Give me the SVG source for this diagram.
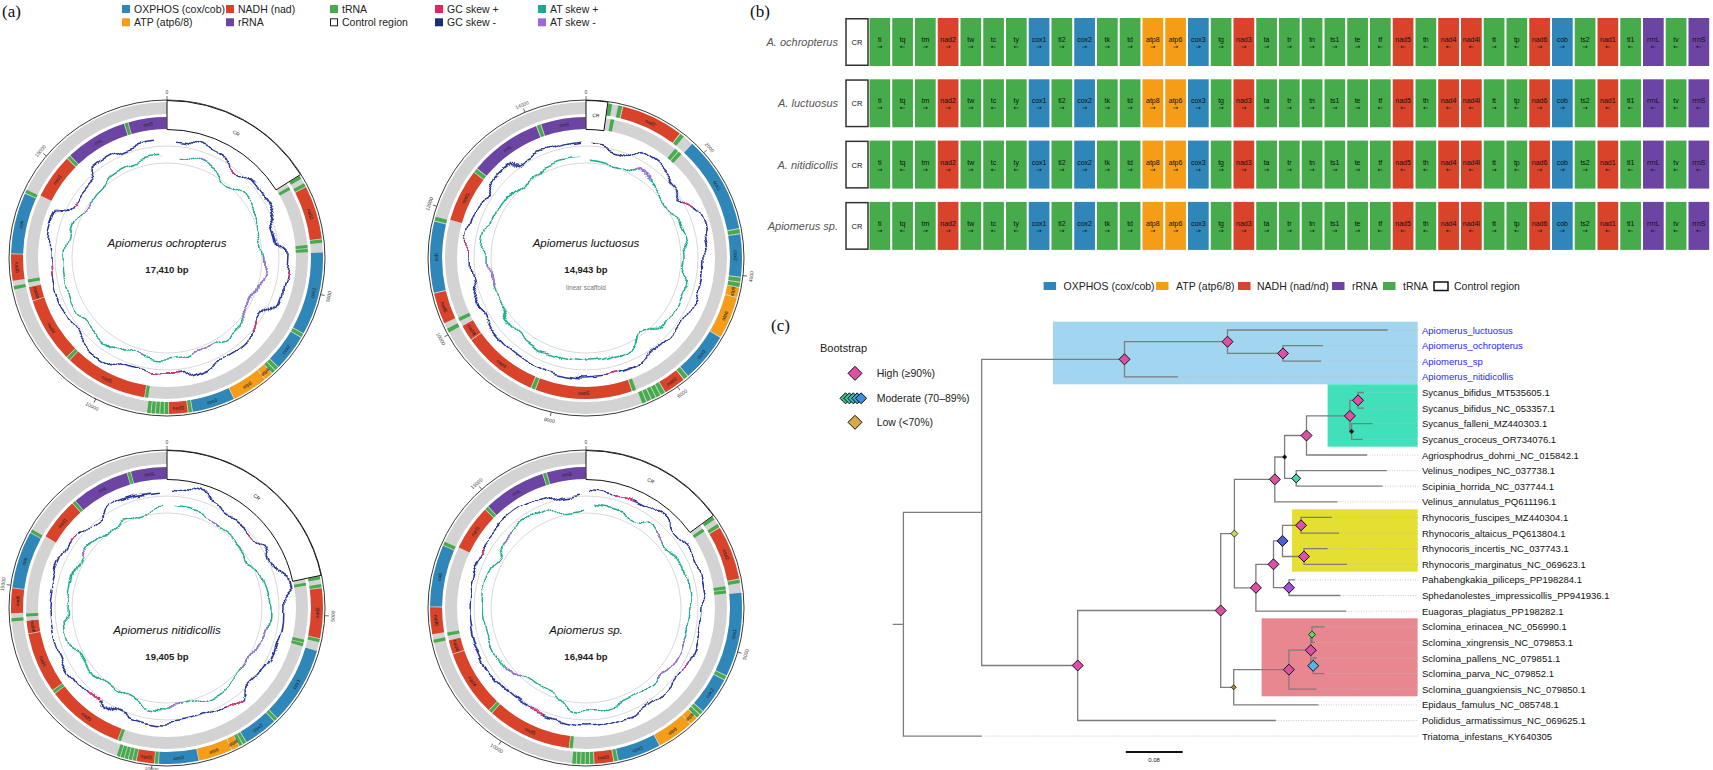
<svg xmlns="http://www.w3.org/2000/svg" xmlns:xlink="http://www.w3.org/1999/xlink" width="1713" height="770" viewBox="0 0 1713 770">
<style>
text{font-family:"Liberation Sans",Arial,sans-serif;fill:#111}
.pl{font-family:"Liberation Serif","Times New Roman",serif;font-size:17px}
.lg{font-size:10.5px;dominant-baseline:central;fill:#222}
.rl{font-size:11px;font-style:italic;fill:#555;text-anchor:end;dominant-baseline:central}
.gn text{font-size:7px;text-anchor:middle}
.ga{font-size:6.5px;text-anchor:middle;font-family:"DejaVu Sans",sans-serif}
.crt{font-size:7.5px;text-anchor:middle}
.cB{fill:#2e86b9}.cO{fill:#f59d16}.cR{fill:#d8432a}.cP{fill:#6c44a3}.cG{fill:#45ab4b}
.crb{fill:#fff;stroke:#333;stroke-width:1.5}
.band{fill:none;stroke:#d3d3d3;stroke-width:12}
.seg{fill:none;stroke-width:12}
.oG{stroke:#45ab4b;stroke-dasharray:0 8 64 96 64 1006 64 1711 64 696 64 16 64 1636 64 371 64 16 64 16 64 16 64 16 64 3496 64 1726 64 30000}
.oR{stroke:#d8432a;stroke-dasharray:0 248 974 4411 339 4056 484 30000}
.oB{stroke:#2e86b9;stroke-dasharray:0 1478 1519 96 664 1006 774 4991 1114 30000}
.oO{stroke:#f59d16;stroke-dasharray:0 3933 144 16 654 30000}
.iG{stroke:#45ab4b;stroke-dasharray:0 88 64 1166 64 16 64 4926 64 1716 64 1716 64 2651 64 1286 64 30000}
.iR{stroke:#d8432a;stroke-dasharray:0 6468 1684 96 1314 16 274 1886 909 30000}
.iP{stroke:#6c44a3;stroke-dasharray:0 12743 1254 96 774 30000}
.scl{fill:none;stroke:#222;stroke-width:0.9}
.crs{fill:#fff;stroke:#111;stroke-width:1}
.ref{fill:none;stroke:#cfcfcf;stroke-width:0.8}
.sk{fill:none;stroke-width:1.5}
.gcL{stroke:#26359b}.gcP{stroke:#e8336e}.atL{stroke:#1fae8e}.atP{stroke:#a56de0}
.ml{font-size:5px;text-anchor:middle;dominant-baseline:central;fill:#222}
.tk{stroke:#333;stroke-width:0.7;fill:none}
.tl{font-size:5px;text-anchor:middle;dominant-baseline:central;fill:#444}
.sp{font-size:11.5px;font-style:italic;text-anchor:middle;dominant-baseline:central}
.bp{font-size:9.5px;font-weight:bold;text-anchor:middle;dominant-baseline:central;fill:#222}
.br{fill:none;stroke:#7d7d7d;stroke-width:1.3}
.dt{fill:none;stroke:#bdbdbd;stroke-width:0.8;stroke-dasharray:1 1.5}
.tip{font-size:9.5px;dominant-baseline:central}
.tipb{font-size:9.5px;dominant-baseline:central;fill:#1f1fff}
.hi{fill:#df4fa6;stroke:#111;stroke-width:1}
.tl2{font-size:10.5px;dominant-baseline:central;fill:#222}
</style>
<defs>
<path id="dm" d="M0 -5.5L5.5 0 0 5.5 -5.5 0Z"/>
<path id="dmL" d="M0 -7L7 0 0 7 -7 0Z"/>
<filter id="wob1" filterUnits="userSpaceOnUse" x="-180" y="-180" width="360" height="360"><feTurbulence type="fractalNoise" baseFrequency="0.018" numOctaves="3" seed="2" result="n"/><feDisplacementMap in="SourceGraphic" in2="n" scale="32" xChannelSelector="R" yChannelSelector="G"/></filter>
<filter id="wob2" filterUnits="userSpaceOnUse" x="-180" y="-180" width="360" height="360"><feTurbulence type="fractalNoise" baseFrequency="0.018" numOctaves="3" seed="7" result="n"/><feDisplacementMap in="SourceGraphic" in2="n" scale="32" xChannelSelector="R" yChannelSelector="G"/></filter>
<filter id="wob3" filterUnits="userSpaceOnUse" x="-180" y="-180" width="360" height="360"><feTurbulence type="fractalNoise" baseFrequency="0.018" numOctaves="3" seed="11" result="n"/><feDisplacementMap in="SourceGraphic" in2="n" scale="32" xChannelSelector="R" yChannelSelector="G"/></filter>
<filter id="wob4" filterUnits="userSpaceOnUse" x="-180" y="-180" width="360" height="360"><feTurbulence type="fractalNoise" baseFrequency="0.018" numOctaves="3" seed="19" result="n"/><feDisplacementMap in="SourceGraphic" in2="n" scale="32" xChannelSelector="R" yChannelSelector="G"/></filter>
<g id="bar">
<rect class="crb" x="846" y="0.75" width="22" height="46.5"/>
<rect class="cG" x="869.5" width="20.7" height="48"/><rect class="cG" x="892.25" width="20.7" height="48"/><rect class="cG" x="915" width="20.7" height="48"/><rect class="cR" x="937.75" width="20.7" height="48"/><rect class="cG" x="960.5" width="20.7" height="48"/><rect class="cG" x="983.25" width="20.7" height="48"/><rect class="cG" x="1006" width="20.7" height="48"/><rect class="cB" x="1028.75" width="20.7" height="48"/><rect class="cG" x="1051.5" width="20.7" height="48"/><rect class="cB" x="1074.25" width="20.7" height="48"/><rect class="cG" x="1097" width="20.7" height="48"/><rect class="cG" x="1119.75" width="20.7" height="48"/><rect class="cO" x="1142.5" width="20.7" height="48"/><rect class="cO" x="1165.25" width="20.7" height="48"/><rect class="cB" x="1188" width="20.7" height="48"/><rect class="cG" x="1210.75" width="20.7" height="48"/><rect class="cR" x="1233.5" width="20.7" height="48"/><rect class="cG" x="1256.25" width="20.7" height="48"/><rect class="cG" x="1279" width="20.7" height="48"/><rect class="cG" x="1301.75" width="20.7" height="48"/><rect class="cG" x="1324.5" width="20.7" height="48"/><rect class="cG" x="1347.25" width="20.7" height="48"/><rect class="cG" x="1370" width="20.7" height="48"/><rect class="cR" x="1392.75" width="20.7" height="48"/><rect class="cG" x="1415.5" width="20.7" height="48"/><rect class="cR" x="1438.25" width="20.7" height="48"/><rect class="cR" x="1461" width="20.7" height="48"/><rect class="cG" x="1483.75" width="20.7" height="48"/><rect class="cG" x="1506.5" width="20.7" height="48"/><rect class="cR" x="1529.25" width="20.7" height="48"/><rect class="cB" x="1552" width="20.7" height="48"/><rect class="cG" x="1574.75" width="20.7" height="48"/><rect class="cR" x="1597.5" width="20.7" height="48"/><rect class="cG" x="1620.25" width="20.7" height="48"/><rect class="cP" x="1643" width="20.7" height="48"/><rect class="cG" x="1665.75" width="20.7" height="48"/><rect class="cP" x="1688.5" width="20.7" height="48"/>
</g>
</defs>
<rect width="1713" height="770" fill="#fff"/>

<!-- Panel (a) legend -->
<g id="legend-a">
<text class="pl" x="2" y="17">(a)</text>
<rect x="122" y="5" width="8" height="8" class="cB"/><text class="lg" x="134" y="9">OXPHOS (cox/cob)</text>
<rect x="226" y="5" width="8" height="8" class="cR"/><text class="lg" x="238" y="9">NADH (nad)</text>
<rect x="330" y="5" width="8" height="8" class="cG"/><text class="lg" x="342" y="9">tRNA</text>
<rect x="435" y="5" width="8" height="8" fill="#e3245f"/><text class="lg" x="447" y="9">GC skew +</text>
<rect x="538" y="5" width="8" height="8" fill="#20a88c"/><text class="lg" x="550" y="9">AT skew +</text>
<rect x="122" y="18.3" width="8" height="8" class="cO"/><text class="lg" x="134" y="22.3">ATP (atp6/8)</text>
<rect x="226" y="18.3" width="8" height="8" class="cP"/><text class="lg" x="238" y="22.3">rRNA</text>
<rect x="330.5" y="18.8" width="7" height="7" fill="#fff" stroke="#222" stroke-width="1"/><text class="lg" x="342" y="22.3">Control region</text>
<rect x="435" y="18.3" width="8" height="8" fill="#1c2c7c"/><text class="lg" x="447" y="22.3">GC skew -</text>
<rect x="538" y="18.3" width="8" height="8" fill="#9b6ad8"/><text class="lg" x="550" y="22.3">AT skew -</text>
</g>

<!-- Map 1 -->
<g id="map-ochropterus" transform="translate(167,258)">
<circle r="158" class="scl"/>
<g transform="rotate(-90)">
<circle r="150" class="band"/><circle r="135" class="band"/>
<g transform="rotate(58)">
<circle r="150" pathLength="17732" class="seg oG"/><circle r="150" pathLength="17732" class="seg oR"/><circle r="150" pathLength="17732" class="seg oB"/><circle r="150" pathLength="17732" class="seg oO"/>
<circle r="135" pathLength="17732" class="seg iG"/><circle r="135" pathLength="17732" class="seg iR"/><circle r="135" pathLength="17732" class="seg iP"/>
</g>
<circle r="112" class="ref"/><circle r="95" class="ref"/>
<g filter="url(#wob1)">
<circle r="117" pathLength="360" class="sk gcL" stroke-dasharray="0 4 352 4"/>
<circle r="117" pathLength="360" class="sk gcP" stroke-dasharray="0 37 3 60 3 25 5 42 15 72 6 32 3 57"/>
<circle r="100" pathLength="360" class="sk atL" stroke-dasharray="0 4 352 4"/>
<circle r="100" pathLength="360" class="sk atP" stroke-dasharray="0 20 5 60 45 20 10 35 5 100 5 55"/>
</g>
</g>
<path class="crs" d="M0,-157.5A157.5,157.5 0 0 1 133.6,-83.5L109,-68.1A128.5,128.5 0 0 0 0,-128.5Z"/>
<g class="ml">
<text class="ml" transform="rotate(29) translate(0,-143)">CR</text>
<text class="ml" transform="rotate(72.9) translate(0,-150)">nad2</text>
<text class="ml" transform="rotate(-76.6) translate(0,150)">cox1</text>
<text class="ml" transform="rotate(-52.5) translate(0,150)">cox2</text>
<text class="ml" transform="rotate(-40.7) translate(0,150)">atp8</text>
<text class="ml" transform="rotate(-32.3) translate(0,150)">atp6</text>
<text class="ml" transform="rotate(-17.4) translate(0,150)">cox3</text>
<text class="ml" transform="rotate(-4.2) translate(0,150)">nad3</text>
<text class="ml" transform="rotate(26.4) translate(0,135)">nad5</text>
<text class="ml" transform="rotate(58.8) translate(0,135)">nad4</text>
<text class="ml" transform="rotate(75.2) translate(0,135)">nad4l</text>
<text class="ml" transform="rotate(86.5) translate(0,150)">nad6</text>
<text class="ml" transform="rotate(283) translate(0,-150)">cob</text>
<text class="ml" transform="rotate(305.5) translate(0,-135)">nad1</text>
<text class="ml" transform="rotate(329.4) translate(0,-135)">rrnL</text>
<text class="ml" transform="rotate(352) translate(0,-135)">rrnS</text>
</g>
<path class="tk" d="M0-158V-162"/><path class="tk" transform="rotate(103.4)" d="M0-158V-162"/><path class="tk" transform="rotate(206.8)" d="M0-158V-162"/><path class="tk" transform="rotate(310.2)" d="M0-158V-162"/>
<text class="tl" transform="translate(0,-166)">0</text>
<text class="tl" transform="rotate(-76.6) translate(0,166)">5000</text>
<text class="tl" transform="rotate(26.8) translate(0,166)">10000</text>
<text class="tl" transform="rotate(310.2) translate(0,-166)">15000</text>
<text class="sp" y="-15">Apiomerus ochropterus</text>
<text class="bp" y="11">17,410 bp</text>
</g>

<!-- Map 2 -->
<g id="map-luctuosus" transform="translate(586,258)">
<circle r="158" class="scl"/>
<g transform="rotate(-90)">
<circle r="150" class="band"/><circle r="135" class="band"/>
<g transform="rotate(8)">
<circle r="150" pathLength="15213" class="seg oG"/><circle r="150" pathLength="15213" class="seg oR"/><circle r="150" pathLength="15213" class="seg oB"/><circle r="150" pathLength="15213" class="seg oO"/>
<circle r="135" pathLength="15213" class="seg iG"/><circle r="135" pathLength="15213" class="seg iR"/><circle r="135" pathLength="15213" class="seg iP"/>
</g>
<circle r="112" class="ref"/><circle r="95" class="ref"/>
<g filter="url(#wob2)">
<circle r="117" pathLength="360" class="sk gcL" stroke-dasharray="0 4 352 4"/>
<circle r="117" pathLength="360" class="sk gcP" stroke-dasharray="0 60 4 100 6 100 8 82"/>
<circle r="100" pathLength="360" class="sk atL" stroke-dasharray="0 4 352 4"/>
<circle r="100" pathLength="360" class="sk atP" stroke-dasharray="0 30 6 220 12 92"/>
</g>
</g>
<path class="crs" d="M0,-157.5A157.5,157.5 0 0 1 21.9,-156L17.9,-127.3A128.5,128.5 0 0 0 0,-128.5Z"/>
<g class="ml">
<text class="ml" transform="rotate(4) translate(0,-143)">CR</text>
<text class="ml" transform="rotate(25.4) translate(0,-150)">nad2</text>
<text class="ml" transform="rotate(61) translate(0,-150)">cox1</text>
<text class="ml" transform="rotate(89) translate(0,-150)">cox2</text>
<text class="ml" transform="rotate(-77.2) translate(0,150)">atp8</text>
<text class="ml" transform="rotate(-67.4) translate(0,150)">atp6</text>
<text class="ml" transform="rotate(-50.1) translate(0,150)">cox3</text>
<text class="ml" transform="rotate(-34.7) translate(0,150)">nad3</text>
<text class="ml" transform="rotate(1) translate(0,135)">nad5</text>
<text class="ml" transform="rotate(38.7) translate(0,135)">nad4</text>
<text class="ml" transform="rotate(57.9) translate(0,135)">nad4l</text>
<text class="ml" transform="rotate(71) translate(0,150)">nad6</text>
<text class="ml" transform="rotate(270.3) translate(0,-150)">cob</text>
<text class="ml" transform="rotate(296.5) translate(0,-135)">nad1</text>
<text class="ml" transform="rotate(324.4) translate(0,-135)">rrnL</text>
<text class="ml" transform="rotate(350.7) translate(0,-135)">rrnS</text>
</g>
<path class="tk" d="M0-158V-162"/><path class="tk" transform="rotate(48.2)" d="M0-158V-162"/><path class="tk" transform="rotate(96.4)" d="M0-158V-162"/><path class="tk" transform="rotate(144.6)" d="M0-158V-162"/><path class="tk" transform="rotate(192.7)" d="M0-158V-162"/><path class="tk" transform="rotate(240.9)" d="M0-158V-162"/><path class="tk" transform="rotate(289.1)" d="M0-158V-162"/><path class="tk" transform="rotate(337.3)" d="M0-158V-162"/>
<text class="tl" transform="translate(0,-166)">0</text>
<text class="tl" transform="rotate(48.2) translate(0,-166)">2000</text>
<text class="tl" transform="rotate(-83.6) translate(0,166)">4000</text>
<text class="tl" transform="rotate(-35.4) translate(0,166)">6000</text>
<text class="tl" transform="rotate(12.7) translate(0,166)">8000</text>
<text class="tl" transform="rotate(60.9) translate(0,166)">10000</text>
<text class="tl" transform="rotate(289.1) translate(0,-166)">12000</text>
<text class="tl" transform="rotate(337.3) translate(0,-166)">14000</text>
<text class="sp" y="-15">Apiomerus luctuosus</text>
<text class="bp" y="11">14,943 bp</text>
<text x="0" y="32" style="font-size:6.5px;text-anchor:middle;fill:#777">linear scaffold</text>
</g>

<!-- Map 3 -->
<g id="map-nitidicollis" transform="translate(167,608)">
<circle r="158" class="scl"/>
<g transform="rotate(-90)">
<circle r="150" class="band"/><circle r="135" class="band"/>
<g transform="rotate(78)">
<circle r="150" pathLength="18989" class="seg oG"/><circle r="150" pathLength="18989" class="seg oR"/><circle r="150" pathLength="18989" class="seg oB"/><circle r="150" pathLength="18989" class="seg oO"/>
<circle r="135" pathLength="18989" class="seg iG"/><circle r="135" pathLength="18989" class="seg iR"/><circle r="135" pathLength="18989" class="seg iP"/>
</g>
<circle r="112" class="ref"/><circle r="95" class="ref"/>
<g filter="url(#wob3)">
<circle r="117" pathLength="360" class="sk gcL" stroke-dasharray="0 4 352 4"/>
<circle r="117" pathLength="360" class="sk gcP" stroke-dasharray="0 45 5 90 8 70 6 80 4 52"/>
<circle r="100" pathLength="360" class="sk atL" stroke-dasharray="0 4 352 4"/>
<circle r="100" pathLength="360" class="sk atP" stroke-dasharray="0 25 6 70 30 40 8 120 6 55"/>
</g>
</g>
<path class="crs" d="M0,-157.5A157.5,157.5 0 0 1 154.1,-32.7L125.7,-26.7A128.5,128.5 0 0 0 0,-128.5Z"/>
<g class="ml">
<text class="ml" transform="rotate(39) translate(0,-143)">CR</text>
<text class="ml" transform="rotate(-88.1) translate(0,150)">nad2</text>
<text class="ml" transform="rotate(-59.6) translate(0,150)">cox1</text>
<text class="ml" transform="rotate(-37.1) translate(0,150)">cox2</text>
<text class="ml" transform="rotate(-26.1) translate(0,150)">atp8</text>
<text class="ml" transform="rotate(-18.2) translate(0,150)">atp6</text>
<text class="ml" transform="rotate(-4.4) translate(0,150)">cox3</text>
<text class="ml" transform="rotate(8) translate(0,150)">nad3</text>
<text class="ml" transform="rotate(36.6) translate(0,135)">nad5</text>
<text class="ml" transform="rotate(66.8) translate(0,135)">nad4</text>
<text class="ml" transform="rotate(82.2) translate(0,135)">nad4l</text>
<text class="ml" transform="rotate(272.7) translate(0,-150)">nad6</text>
<text class="ml" transform="rotate(288.1) translate(0,-150)">cob</text>
<text class="ml" transform="rotate(309.1) translate(0,-135)">nad1</text>
<text class="ml" transform="rotate(331.5) translate(0,-135)">rrnL</text>
<text class="ml" transform="rotate(352.5) translate(0,-135)">rrnS</text>
</g>
<path class="tk" d="M0-158V-162"/><path class="tk" transform="rotate(92.8)" d="M0-158V-162"/><path class="tk" transform="rotate(185.5)" d="M0-158V-162"/><path class="tk" transform="rotate(278.3)" d="M0-158V-162"/>
<text class="tl" transform="translate(0,-166)">0</text>
<text class="tl" transform="rotate(-87.2) translate(0,166)">5000</text>
<text class="tl" transform="rotate(5.5) translate(0,161.5)">10000</text>
<text class="tl" transform="rotate(278.3) translate(0,-166)">15000</text>
<text class="sp" y="22">Apiomerus nitidicollis</text>
<text class="bp" y="48">19,405 bp</text>
</g>

<!-- Map 4 -->
<g id="map-sp" transform="translate(586,608)">
<circle r="158" class="scl"/>
<g transform="rotate(-90)">
<circle r="150" class="band"/><circle r="135" class="band"/>
<g transform="rotate(54)">
<circle r="150" pathLength="17500" class="seg oG"/><circle r="150" pathLength="17500" class="seg oR"/><circle r="150" pathLength="17500" class="seg oB"/><circle r="150" pathLength="17500" class="seg oO"/>
<circle r="135" pathLength="17500" class="seg iG"/><circle r="135" pathLength="17500" class="seg iR"/><circle r="135" pathLength="17500" class="seg iP"/>
</g>
<circle r="112" class="ref"/><circle r="95" class="ref"/>
<g filter="url(#wob4)">
<circle r="117" pathLength="360" class="sk gcL" stroke-dasharray="0 4 352 4"/>
<circle r="117" pathLength="360" class="sk gcP" stroke-dasharray="0 15 8 95 5 80 6 90 4 57"/>
<circle r="100" pathLength="360" class="sk atL" stroke-dasharray="0 4 352 4"/>
<circle r="100" pathLength="360" class="sk atP" stroke-dasharray="0 40 8 60 25 90 10 80 6 41"/>
</g>
</g>
<path class="crs" d="M0,-157.5A157.5,157.5 0 0 1 127.4,-92.6L104,-75.5A128.5,128.5 0 0 0 0,-128.5Z"/>
<g class="ml">
<text class="ml" transform="rotate(27) translate(0,-143)">CR</text>
<text class="ml" transform="rotate(69.1) translate(0,-150)">nad2</text>
<text class="ml" transform="rotate(-80) translate(0,150)">cox1</text>
<text class="ml" transform="rotate(-55.5) translate(0,150)">cox2</text>
<text class="ml" transform="rotate(-43.6) translate(0,150)">atp8</text>
<text class="ml" transform="rotate(-35.1) translate(0,150)">atp6</text>
<text class="ml" transform="rotate(-20.1) translate(0,150)">cox3</text>
<text class="ml" transform="rotate(-6.6) translate(0,150)">nad3</text>
<text class="ml" transform="rotate(24.4) translate(0,135)">nad5</text>
<text class="ml" transform="rotate(57.2) translate(0,135)">nad4</text>
<text class="ml" transform="rotate(73.8) translate(0,135)">nad4l</text>
<text class="ml" transform="rotate(85.3) translate(0,150)">nad6</text>
<text class="ml" transform="rotate(282) translate(0,-150)">cob</text>
<text class="ml" transform="rotate(304.8) translate(0,-135)">nad1</text>
<text class="ml" transform="rotate(329) translate(0,-135)">rrnL</text>
<text class="ml" transform="rotate(351.9) translate(0,-135)">rrnS</text>
</g>
<path class="tk" d="M0-158V-162"/><path class="tk" transform="rotate(106.2)" d="M0-158V-162"/><path class="tk" transform="rotate(212.5)" d="M0-158V-162"/><path class="tk" transform="rotate(318.7)" d="M0-158V-162"/>
<text class="tl" transform="translate(0,-166)">0</text>
<text class="tl" transform="rotate(-73.8) translate(0,166)">5000</text>
<text class="tl" transform="rotate(32.5) translate(0,166)">10000</text>
<text class="tl" transform="rotate(318.7) translate(0,-166)">15000</text>
<text class="sp" y="22">Apiomerus sp.</text>
<text class="bp" y="48">16,944 bp</text>
</g>

<!-- Panel (b) -->
<text class="pl" x="750" y="17">(b)</text>
<g id="row-ochropterus" transform="translate(0,18)">
<use href="#bar"/>
<text class="rl" x="838" y="24">A. ochropterus</text>
<text class="crt" x="857" y="27">CR</text>
<g class="gn"><text x="879.85" y="24">ti</text><text x="902.6" y="24">tq</text><text x="925.35" y="24">tm</text><text x="948.1" y="24">nad2</text><text x="970.85" y="24">tw</text><text x="993.6" y="24">tc</text><text x="1016.35" y="24">ty</text><text x="1039.1" y="24">cox1</text><text x="1061.85" y="24">tl2</text><text x="1084.6" y="24">cox2</text><text x="1107.35" y="24">tk</text><text x="1130.1" y="24">td</text><text x="1152.85" y="24">atp8</text><text x="1175.6" y="24">atp6</text><text x="1198.35" y="24">cox3</text><text x="1221.1" y="24">tg</text><text x="1243.85" y="24">nad3</text><text x="1266.6" y="24">ta</text><text x="1289.35" y="24">tr</text><text x="1312.1" y="24">tn</text><text x="1334.85" y="24">ts1</text><text x="1357.6" y="24">te</text><text x="1380.35" y="24">tf</text><text x="1403.1" y="24">nad5</text><text x="1425.85" y="24">th</text><text x="1448.6" y="24">nad4</text><text x="1471.35" y="24">nad4l</text><text x="1494.1" y="24">tt</text><text x="1516.85" y="24">tp</text><text x="1539.6" y="24">nad6</text><text x="1562.35" y="24">cob</text><text x="1585.1" y="24">ts2</text><text x="1607.85" y="24">nad1</text><text x="1630.6" y="24">tl1</text><text x="1653.35" y="24">rrnL</text><text x="1676.1" y="24">tv</text><text x="1698.85" y="24">rrnS</text></g>
<text class="ga" y="31" x="879.85 902.6 925.35 948.1 970.85 993.6 1016.35 1039.1 1061.85 1084.6 1107.35 1130.1 1152.85 1175.6 1198.35 1221.1 1243.85 1266.6 1289.35 1312.1 1334.85 1357.6 1380.35 1403.1 1425.85 1448.6 1471.35 1494.1 1516.85 1539.6 1562.35 1585.1 1607.85 1630.6 1653.35 1676.1 1698.85">→←→→→←←→→→→→→→→→→→→→→→←←←←←→←→→→←←←←←</text>
</g>
<g id="row-luctuosus" transform="translate(0,79.3)">
<use href="#bar"/>
<text class="rl" x="838" y="24">A. luctuosus</text>
<text class="crt" x="857" y="27">CR</text>
<g class="gn"><text x="879.85" y="24">ti</text><text x="902.6" y="24">tq</text><text x="925.35" y="24">tm</text><text x="948.1" y="24">nad2</text><text x="970.85" y="24">tw</text><text x="993.6" y="24">tc</text><text x="1016.35" y="24">ty</text><text x="1039.1" y="24">cox1</text><text x="1061.85" y="24">tl2</text><text x="1084.6" y="24">cox2</text><text x="1107.35" y="24">tk</text><text x="1130.1" y="24">td</text><text x="1152.85" y="24">atp8</text><text x="1175.6" y="24">atp6</text><text x="1198.35" y="24">cox3</text><text x="1221.1" y="24">tg</text><text x="1243.85" y="24">nad3</text><text x="1266.6" y="24">ta</text><text x="1289.35" y="24">tr</text><text x="1312.1" y="24">tn</text><text x="1334.85" y="24">ts1</text><text x="1357.6" y="24">te</text><text x="1380.35" y="24">tf</text><text x="1403.1" y="24">nad5</text><text x="1425.85" y="24">th</text><text x="1448.6" y="24">nad4</text><text x="1471.35" y="24">nad4l</text><text x="1494.1" y="24">tt</text><text x="1516.85" y="24">tp</text><text x="1539.6" y="24">nad6</text><text x="1562.35" y="24">cob</text><text x="1585.1" y="24">ts2</text><text x="1607.85" y="24">nad1</text><text x="1630.6" y="24">tl1</text><text x="1653.35" y="24">rrnL</text><text x="1676.1" y="24">tv</text><text x="1698.85" y="24">rrnS</text></g>
<text class="ga" y="31" x="879.85 902.6 925.35 948.1 970.85 993.6 1016.35 1039.1 1061.85 1084.6 1107.35 1130.1 1152.85 1175.6 1198.35 1221.1 1243.85 1266.6 1289.35 1312.1 1334.85 1357.6 1380.35 1403.1 1425.85 1448.6 1471.35 1494.1 1516.85 1539.6 1562.35 1585.1 1607.85 1630.6 1653.35 1676.1 1698.85">→←→→→←←→→→→→→→→→→→→→→→←←←←←→←→→→←←←←←</text>
</g>
<g id="row-nitidicollis" transform="translate(0,140.6)">
<use href="#bar"/>
<text class="rl" x="838" y="24">A. nitidicollis</text>
<text class="crt" x="857" y="27">CR</text>
<g class="gn"><text x="879.85" y="24">ti</text><text x="902.6" y="24">tq</text><text x="925.35" y="24">tm</text><text x="948.1" y="24">nad2</text><text x="970.85" y="24">tw</text><text x="993.6" y="24">tc</text><text x="1016.35" y="24">ty</text><text x="1039.1" y="24">cox1</text><text x="1061.85" y="24">tl2</text><text x="1084.6" y="24">cox2</text><text x="1107.35" y="24">tk</text><text x="1130.1" y="24">td</text><text x="1152.85" y="24">atp8</text><text x="1175.6" y="24">atp6</text><text x="1198.35" y="24">cox3</text><text x="1221.1" y="24">tg</text><text x="1243.85" y="24">nad3</text><text x="1266.6" y="24">ta</text><text x="1289.35" y="24">tr</text><text x="1312.1" y="24">tn</text><text x="1334.85" y="24">ts1</text><text x="1357.6" y="24">te</text><text x="1380.35" y="24">tf</text><text x="1403.1" y="24">nad5</text><text x="1425.85" y="24">th</text><text x="1448.6" y="24">nad4</text><text x="1471.35" y="24">nad4l</text><text x="1494.1" y="24">tt</text><text x="1516.85" y="24">tp</text><text x="1539.6" y="24">nad6</text><text x="1562.35" y="24">cob</text><text x="1585.1" y="24">ts2</text><text x="1607.85" y="24">nad1</text><text x="1630.6" y="24">tl1</text><text x="1653.35" y="24">rrnL</text><text x="1676.1" y="24">tv</text><text x="1698.85" y="24">rrnS</text></g>
<text class="ga" y="31" x="879.85 902.6 925.35 948.1 970.85 993.6 1016.35 1039.1 1061.85 1084.6 1107.35 1130.1 1152.85 1175.6 1198.35 1221.1 1243.85 1266.6 1289.35 1312.1 1334.85 1357.6 1380.35 1403.1 1425.85 1448.6 1471.35 1494.1 1516.85 1539.6 1562.35 1585.1 1607.85 1630.6 1653.35 1676.1 1698.85">→←→→→←←→→→→→→→→→→→→→→→←←←←←→←→→→←←←←←</text>
</g>
<g id="row-sp" transform="translate(0,201.9)">
<use href="#bar"/>
<text class="rl" x="838" y="24">Apiomerus sp.</text>
<text class="crt" x="857" y="27">CR</text>
<g class="gn"><text x="879.85" y="24">ti</text><text x="902.6" y="24">tq</text><text x="925.35" y="24">tm</text><text x="948.1" y="24">nad2</text><text x="970.85" y="24">tw</text><text x="993.6" y="24">tc</text><text x="1016.35" y="24">ty</text><text x="1039.1" y="24">cox1</text><text x="1061.85" y="24">tl2</text><text x="1084.6" y="24">cox2</text><text x="1107.35" y="24">tk</text><text x="1130.1" y="24">td</text><text x="1152.85" y="24">atp8</text><text x="1175.6" y="24">atp6</text><text x="1198.35" y="24">cox3</text><text x="1221.1" y="24">tg</text><text x="1243.85" y="24">nad3</text><text x="1266.6" y="24">ta</text><text x="1289.35" y="24">tr</text><text x="1312.1" y="24">tn</text><text x="1334.85" y="24">ts1</text><text x="1357.6" y="24">te</text><text x="1380.35" y="24">tf</text><text x="1403.1" y="24">nad5</text><text x="1425.85" y="24">th</text><text x="1448.6" y="24">nad4</text><text x="1471.35" y="24">nad4l</text><text x="1494.1" y="24">tt</text><text x="1516.85" y="24">tp</text><text x="1539.6" y="24">nad6</text><text x="1562.35" y="24">cob</text><text x="1585.1" y="24">ts2</text><text x="1607.85" y="24">nad1</text><text x="1630.6" y="24">tl1</text><text x="1653.35" y="24">rrnL</text><text x="1676.1" y="24">tv</text><text x="1698.85" y="24">rrnS</text></g>
<text class="ga" y="31" x="879.85 902.6 925.35 948.1 970.85 993.6 1016.35 1039.1 1061.85 1084.6 1107.35 1130.1 1152.85 1175.6 1198.35 1221.1 1243.85 1266.6 1289.35 1312.1 1334.85 1357.6 1380.35 1403.1 1425.85 1448.6 1471.35 1494.1 1516.85 1539.6 1562.35 1585.1 1607.85 1630.6 1653.35 1676.1 1698.85">→←→→→←←→→→→→→→→→→→→→→→←←←←←→←→→→←←←←←</text>
</g>
<g id="legend-b">
<rect x="1043.6" y="282" width="12.5" height="8" class="cB"/><text class="lg" x="1063.6" y="286">OXPHOS (cox/cob)</text>
<rect x="1156" y="282" width="12.5" height="8" class="cO"/><text class="lg" x="1176" y="286">ATP (atp6/8)</text>
<rect x="1238" y="282" width="12.5" height="8" class="cR"/><text class="lg" x="1257" y="286">NADH (nad/nd)</text>
<rect x="1332" y="282" width="12.5" height="8" class="cP"/><text class="lg" x="1352" y="286">rRNA</text>
<rect x="1383" y="282" width="12.5" height="8" class="cG"/><text class="lg" x="1403" y="286">tRNA</text>
<rect x="1434" y="282" width="14" height="8.5" fill="#fff" stroke="#111" stroke-width="1.5"/><text class="lg" x="1454" y="286">Control region</text>
</g>

<!-- Panel (c) -->
<text class="pl" x="771" y="331">(c)</text>
<g id="clade-boxes">
<rect x="1052.9" y="321.7" width="364.8" height="62.6" fill="#a2d5ef"/>
<rect x="1327.6" y="384.3" width="90.1" height="62.4" fill="#40e0bb"/>
<rect x="1291.9" y="509.3" width="125.8" height="62.4" fill="#e4df30"/>
<rect x="1261.6" y="618.3" width="156" height="78" fill="#e8878f"/>
</g>
<g id="connectors">
<path class="dt" d="M1387.6 330H1418M1323 345.6H1418M1321 361.2H1418M1178 376.9H1418M1364 392.5H1418M1364 408.1H1418M1372.6 423.7H1418M1363 439.3H1418M1367 455H1418M1386.8 470.6H1418M1382.5 486.2H1418M1337.4 501.8H1418M1331.8 517.4H1418M1339 533.1H1418M1327.6 548.7H1418M1346.9 564.3H1418M1295 579.9H1418M1340.4 595.5H1418M1346 611.2H1418M1324.5 626.8H1418M1315 642.4H1418M1316.8 658H1418M1324.5 673.6H1418M1316.8 689.2H1418M1318.5 704.9H1418M1275.8 720.5H1418M981.7 736.1H1418"/>
<path class="br" d="M892.7 624.3H903.4M981.7 512.4H903.4V736.1H981.7M1124.5 359.3H981.7V665.5H1077.7M1227.5 341.7H1124.5V376.9H1178M1387.6 330H1227.5V353.4H1283M1323 345.6H1283V361.2H1321M1220.7 610.5H1077.7V720.5H1275.8M1234.4 533.6H1220.7V687.3H1233.7M1274.8 479.4H1234.4V587.8H1255.9M1284.6 457H1274.8V501.8H1337.4M1306.5 435.5H1284.6V478.4H1296.2M1349.9 415.9H1306.5V455H1367M1358 400.3H1349.9V431.5H1351.6M1364 392.5H1358V408.1H1364M1372.6 423.7H1351.6V439.3H1363M1386.8 470.6H1296.2V486.2H1382.5M1273.5 564.3H1255.9V611.2H1346M1282.5 540.9H1273.5V587.7H1289M1301 525.3H1282.5V556.5H1304M1331.8 517.4H1301V533.1H1339M1327.6 548.7H1304V564.3H1346.9M1295 579.9H1289V595.5H1340.4M1288.9 669.7H1233.7V704.9H1318.5M1310.8 650.2H1288.9V689.2H1316.8M1312 634.6H1310.8V665.8H1313.2M1324.5 626.8H1312V642.4H1315M1316.8 658H1313.2V673.6H1324.5"/>
</g>
<g id="bootstrap-markers">
<use href="#dm" x="1124.5" y="359.3" class="hi"/>
<use href="#dm" x="1227.5" y="341.7" class="hi"/>
<use href="#dm" x="1283" y="353.4" class="hi"/>
<use href="#dm" x="1358" y="400.3" class="hi"/>
<use href="#dm" x="1349.9" y="415.9" class="hi"/>
<path d="M1351.6 429L1354.1 431.5 1351.6 434 1349.1 431.5Z" fill="#111"/>
<use href="#dm" x="1306.5" y="435.5" class="hi"/>
<path d="M1284.6 454.5L1287.1 457 1284.6 459.5 1282.1 457Z" fill="#111"/>
<path d="M1296.2 473.9L1300.7 478.4 1296.2 482.9 1291.7 478.4Z" fill="#41d6b0" stroke="#111" stroke-width="1"/>
<use href="#dm" x="1274.8" y="479.4" class="hi"/>
<path d="M1234.4 530.1L1237.9 533.6 1234.4 537.1 1230.9 533.6Z" fill="#c5e048" stroke="#111" stroke-width="0.8"/>
<use href="#dm" x="1282.5" y="540.9" fill="#4b5fd6" stroke="#111" stroke-width="1"/>
<use href="#dm" x="1301" y="525.3" class="hi"/>
<use href="#dm" x="1304" y="556.5" class="hi"/>
<use href="#dm" x="1273.5" y="564.3" class="hi"/>
<use href="#dm" x="1289" y="587.7" fill="#a64fdc" stroke="#111" stroke-width="1"/>
<use href="#dm" x="1255.9" y="587.8" class="hi"/>
<use href="#dm" x="1220.7" y="610.5" class="hi"/>
<use href="#dm" x="1077.7" y="665.5" class="hi"/>
<path d="M1312 631.1L1315.5 634.6 1312 638.1 1308.5 634.6Z" fill="#53e05a" stroke="#111" stroke-width="0.8"/>
<use href="#dm" x="1310.8" y="650.2" class="hi"/>
<use href="#dm" x="1313.2" y="665.8" fill="#55b5ea" stroke="#111" stroke-width="1"/>
<use href="#dm" x="1288.9" y="669.7" class="hi"/>
<path d="M1233.7 684.8L1236.2 687.3 1233.7 689.8 1231.2 687.3Z" fill="#b08a1a" stroke="#111" stroke-width="0.8"/>
</g>
<g id="tip-labels">
<text class="tipb" x="1422" y="330">Apiomerus_luctuosus</text>
<text class="tipb" x="1422" y="345.6">Apiomerus_ochropterus</text>
<text class="tipb" x="1422" y="361.2">Apiomerus_sp</text>
<text class="tipb" x="1422" y="376.9">Apiomerus_nitidicollis</text>
<text class="tip" x="1422" y="392.5">Sycanus_bifidus_MT535605.1</text>
<text class="tip" x="1422" y="408.1">Sycanus_bifidus_NC_053357.1</text>
<text class="tip" x="1422" y="423.7">Sycanus_falleni_MZ440303.1</text>
<text class="tip" x="1422" y="439.3">Sycanus_croceus_OR734076.1</text>
<text class="tip" x="1422" y="455">Agriosphodrus_dohrni_NC_015842.1</text>
<text class="tip" x="1422" y="470.6">Velinus_nodipes_NC_037738.1</text>
<text class="tip" x="1422" y="486.2">Scipinia_horrida_NC_037744.1</text>
<text class="tip" x="1422" y="501.8">Velinus_annulatus_PQ611196.1</text>
<text class="tip" x="1422" y="517.4">Rhynocoris_fuscipes_MZ440304.1</text>
<text class="tip" x="1422" y="533.1">Rhynocoris_altaicus_PQ613804.1</text>
<text class="tip" x="1422" y="548.7">Rhynocoris_incertis_NC_037743.1</text>
<text class="tip" x="1422" y="564.3">Rhynocoris_marginatus_NC_069623.1</text>
<text class="tip" x="1422" y="579.9">Pahabengkakia_piliceps_PP198284.1</text>
<text class="tip" x="1422" y="595.5">Sphedanolestes_impressicollis_PP941936.1</text>
<text class="tip" x="1422" y="611.2">Euagoras_plagiatus_PP198282.1</text>
<text class="tip" x="1422" y="626.8">Sclomina_erinacea_NC_056990.1</text>
<text class="tip" x="1422" y="642.4">Sclomina_xingrensis_NC_079853.1</text>
<text class="tip" x="1422" y="658">Sclomina_pallens_NC_079851.1</text>
<text class="tip" x="1422" y="673.6">Sclomina_parva_NC_079852.1</text>
<text class="tip" x="1422" y="689.2">Sclomina_guangxiensis_NC_079850.1</text>
<text class="tip" x="1422" y="704.9">Epidaus_famulus_NC_085748.1</text>
<text class="tip" x="1422" y="720.5">Polididus_armatissimus_NC_069625.1</text>
<text class="tip" x="1422" y="736.1">Triatoma_infestans_KY640305</text>
</g>
<g id="legend-c">
<text class="tl2" x="820" y="348" style="font-size:11px">Bootstrap</text>
<use href="#dmL" x="855" y="373.3" class="hi"/>
<text class="tl2" x="876.7" y="373.3">High (≥90%)</text>
<path d="M845.5 392.8L851 398.3 845.5 403.8 840 398.3Z" fill="#3dbf7f" stroke="#111" stroke-width="1"/>
<path d="M849.4 392.8L854.9 398.3 849.4 403.8 843.9 398.3Z" fill="#45c09a" stroke="#111" stroke-width="1"/>
<path d="M853.3 392.8L858.8 398.3 853.3 403.8 847.8 398.3Z" fill="#3db5b0" stroke="#111" stroke-width="1"/>
<path d="M857.2 392.8L862.7 398.3 857.2 403.8 851.7 398.3Z" fill="#3aa0c8" stroke="#111" stroke-width="1"/>
<path d="M861.1 392.8L866.6 398.3 861.1 403.8 855.6 398.3Z" fill="#3b8ee0" stroke="#111" stroke-width="1"/>
<text class="tl2" x="876.7" y="398.3">Moderate (70–89%)</text>
<use href="#dmL" x="855" y="422.3" fill="#d9a84a" stroke="#111" stroke-width="1"/>
<text class="tl2" x="876.7" y="422.3">Low (&lt;70%)</text>
</g>
<g id="scale-bar">
<path d="M1125.8 752H1182.7" stroke="#111" stroke-width="2"/>
<text x="1154" y="762" style="font-size:6px;text-anchor:middle">0.08</text>
</g>
</svg>
